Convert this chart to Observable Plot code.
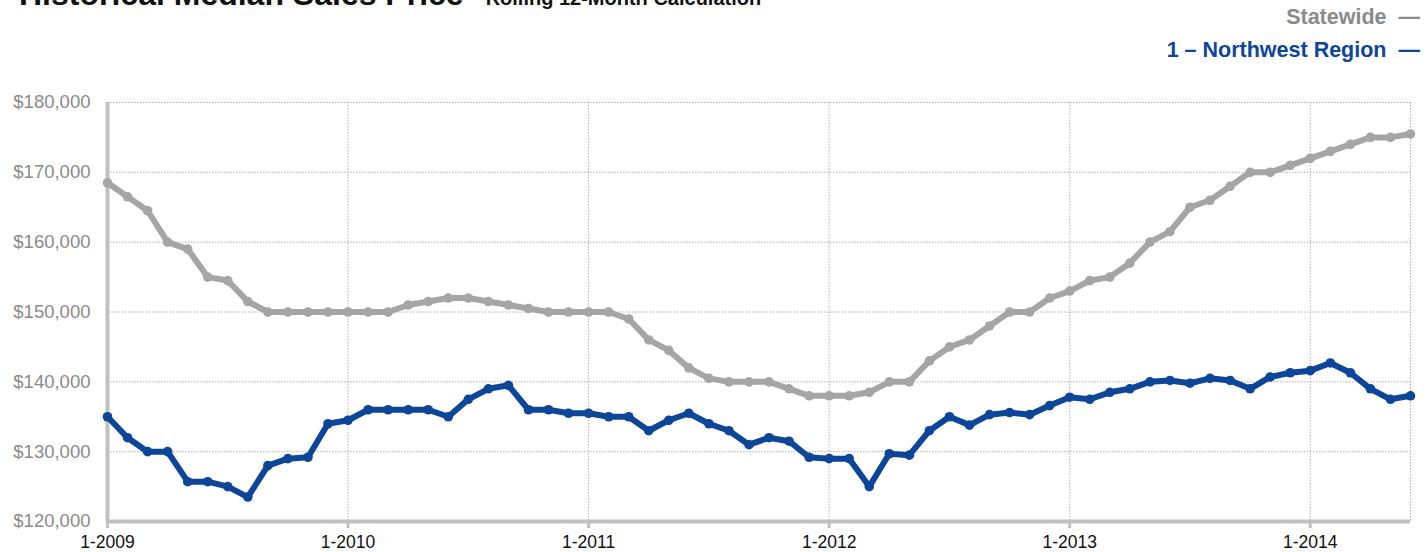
<!DOCTYPE html>
<html>
<head>
<meta charset="utf-8">
<script src="https://cdn.jsdelivr.net/npm/d3@7"></script>
<script src="https://cdn.jsdelivr.net/npm/@observablehq/plot@0.6"></script>
<style>
  html, body { margin: 0; padding: 0; background: #fff; }
  body { width: 1428px; height: 552px; position: relative; overflow: hidden;
         font-family: "Liberation Sans", Arial, Helvetica, sans-serif; }
  #title { position: absolute; left: 19px; top: -24px; white-space: nowrap; font-weight: bold; color: #111; }
  #title .main { font-size: 32px; }
  #title .sub { font-size: 20px; margin-left: 22px; }
  .leg { position: absolute; right: 8px; font-weight: bold; font-size: 21.5px; white-space: nowrap; }
  #leg1 { top: 5px; color: #8a8a8a; }
  #leg2 { top: 38px; color: #0d4599; }
  .leg span { margin-left: 12px; }
  #chart { position: absolute; left: 0; top: 80px; }
</style>
</head>
<body>
<div id="title"><span class="main">Historical Median Sales Price</span><span class="sub">Rolling 12-Month Calculation</span></div>
<div class="leg" id="leg1">Statewide<span>—</span></div>
<div class="leg" id="leg2">1 – Northwest Region<span>—</span></div>
<div id="chart"></div>
<script>
// Months: Jan 2009 .. Jun 2014 (66 monthly points)
const startYear = 2009;
const monthCount = 66;

const statewide = [
  168500, 166500, 164500, 160000, 159000, 155000, 154500, 151500, 150000, 150000, 150000, 150000,
  150000, 150000, 150000, 151000, 151500, 152000, 152000, 151500, 151000, 150500, 150000, 150000,
  150000, 150000, 149000, 146000, 144500, 142000, 140500, 140000, 140000, 140000, 139000, 138000,
  138000, 138000, 138500, 140000, 140000, 143000, 145000, 146000, 148000, 150000, 150000, 152000,
  153000, 154500, 155000, 157000, 160000, 161500, 165000, 166000, 168000, 170000, 170000, 171000,
  172000, 173000, 174000, 175000, 175000, 175500
];

const northwest = [
  135000, 132000, 130000, 130000, 125700, 125700, 125000, 123500, 128000, 129000, 129200, 134000,
  134500, 136000, 136000, 136000, 136000, 135000, 137500, 139000, 139500, 136000, 136000, 135500,
  135500, 135000, 135000, 133000, 134500, 135500, 134000, 133000, 131000, 132000, 131500, 129200,
  129000, 129000, 125000, 129700, 129500, 133000, 135000, 133800, 135300, 135600, 135300, 136600,
  137800, 137500, 138500, 139000, 140000, 140200, 139800, 140500, 140200, 139000, 140700, 141300,
  141600, 142700, 141300, 139000, 137500, 138000
];

const xTicks = [0, 12, 24, 36, 48, 60];
const xTickLabels = ["1-2009", "1-2010", "1-2011", "1-2012", "1-2013", "1-2014"];
const yTicks = [120000, 130000, 140000, 150000, 160000, 170000, 180000];

const seriesNames = ["Statewide", "1 – Northwest Region"];
const seriesColors = ["#a5a5a5", "#0d4599"];

const rows = [];
statewide.forEach((v, i) => rows.push({series: seriesNames[0], m: i, value: v}));
northwest.forEach((v, i) => rows.push({series: seriesNames[1], m: i, value: v}));

const fmt = d3.format("$,");

const chart = Plot.plot({
  width: 1428,
  height: 472,
  marginLeft: 107,
  marginRight: 18,
  marginTop: 22,
  marginBottom: 31,
  style: {fontFamily: '"Liberation Sans", Arial, Helvetica, sans-serif', fontSize: "16px", background: "#fff"},
  x: {type: "linear", domain: [0, monthCount - 1], label: null},
  y: {domain: [120000, 180000], label: null},
  color: {domain: seriesNames, range: seriesColors},
  marks: [
    Plot.gridY(yTicks, {stroke: "#b0b0b0", strokeOpacity: 1, strokeDasharray: "1.5,1.5", strokeWidth: 1}),
    Plot.gridX([...xTicks, monthCount - 1], {stroke: "#b0b0b0", strokeOpacity: 1, strokeDasharray: "1.5,1.5", strokeWidth: 1}),
    Plot.axisY(yTicks, {tickFormat: fmt, tickSize: 0, tickPadding: 17, fill: "#8a8a8a", fontSize: 18.5, label: null}),
    Plot.axisX(xTicks, {tickFormat: (d) => xTickLabels[xTicks.indexOf(d)], tickSize: 7, tickPadding: 7,
      stroke: "#c0c0c0", strokeWidth: 3, fill: "#111", fontSize: 17.5, label: null}),
    Plot.ruleY([120000], {stroke: "#c0c0c0", strokeWidth: 4}),
    Plot.ruleX([0], {stroke: "#c0c0c0", strokeWidth: 4}),
    Plot.line(rows, {x: "m", y: "value", z: "series", stroke: "series", strokeWidth: 6, strokeLinejoin: "round", strokeLinecap: "round"}),
    Plot.dot(rows, {x: "m", y: "value", fill: "series", r: 4.8})
  ]
});
document.getElementById("chart").appendChild(chart);
</script>
</body>
</html>
